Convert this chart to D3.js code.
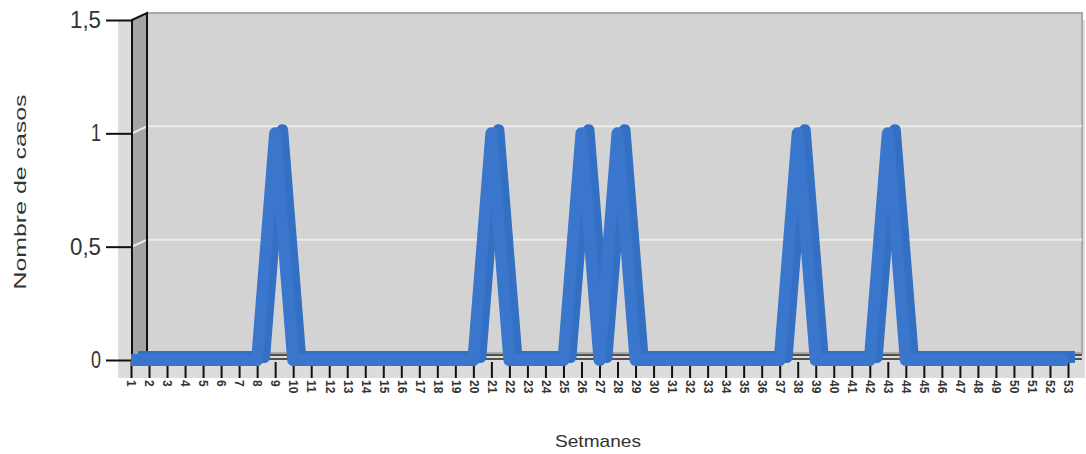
<!DOCTYPE html>
<html>
<head>
<meta charset="utf-8">
<script src="https://cdn.jsdelivr.net/npm/d3@7"></script>
<style>
  body { margin: 0; background: #fff; }
  text { font-family: "Liberation Sans Narrow", "Liberation Sans", Arial, sans-serif; fill: #333; }
</style>
</head>
<body>
<div id="chart"></div>
<script>
// weeks 1..53 and cases per week
var weeks = d3.range(1, 54);
var cases = [0,0,0,0,0,0,0,0,1,0, 0,0,0,0,0,0,0,0,0,0, 1,0,0,0,0,1,0,1,0,0, 0,0,0,0,0,0,0,1,0,0, 0,0,1,0,0,0,0,0,0,0, 0,0,0];
var yTicks = [0, 0.5, 1, 1.5];

var W = 1086, H = 454;
var depthX = 15, depthY = -7;

var svg = d3.select("#chart").append("svg")
  .attr("width", W).attr("height", H);

var x = d3.scaleLinear().domain([1, 53]).range([131, 1068]);
var y = d3.scaleLinear().domain([0, 1.5]).range([360, 20]);

var pLeft = 132, pRight = 1082 - depthX;
var pTop = y(1.5), pBottom = y(0);

// outer light area
svg.append("rect")
  .attr("x", 118).attr("y", pTop).attr("width", 1085 - 118).attr("height", 378 - pTop)
  .attr("fill", "#dcdcdc");

// back wall
svg.append("rect")
  .attr("x", pLeft + depthX).attr("y", pTop + depthY)
  .attr("width", pRight - pLeft).attr("height", pBottom - pTop)
  .attr("fill", "#d3d3d3").attr("stroke", "#a8a8a8").attr("stroke-width", 2);

// left wall
svg.append("path")
  .attr("d", "M" + pLeft + "," + pTop + "L" + (pLeft + depthX) + "," + (pTop + depthY) +
    "L" + (pLeft + depthX) + "," + (pBottom + depthY) + "L" + pLeft + "," + pBottom + "Z")
  .attr("fill", "#a4a4a4");

// grid lines
yTicks.filter(function(d) { return d > 0 && d < 1.5; }).forEach(function(t) {
  svg.append("path")
    .attr("d", "M" + pLeft + "," + y(t) + "L" + (pLeft + depthX) + "," + (y(t) + depthY) +
      "L" + (pRight + depthX) + "," + (y(t) + depthY))
    .attr("fill", "none").attr("stroke", "#ececec").attr("stroke-width", 2);
});

// wall edges
svg.append("path")
  .attr("d", "M" + pLeft + "," + pBottom + "L" + pLeft + "," + pTop + "L" + (pLeft + depthX) + "," + (pTop + depthY) +
    "L" + (pLeft + depthX) + "," + (pBottom + depthY))
  .attr("fill", "none").attr("stroke", "#111").attr("stroke-width", 2);

// floor edges
svg.append("line")
  .attr("x1", pLeft + depthX).attr("x2", pRight + depthX)
  .attr("y1", pBottom - 5).attr("y2", pBottom - 5)
  .attr("stroke", "#222").attr("stroke-width", 1.5);
svg.append("line")
  .attr("x1", pLeft).attr("x2", pRight + depthX)
  .attr("y1", pBottom - 1).attr("y2", pBottom - 1)
  .attr("stroke", "#222").attr("stroke-width", 1.5);

// y axis
var yAxis = d3.axisLeft(y).tickValues(yTicks).tickSize(26).tickPadding(5)
  .tickFormat(function(d) { return String(d).replace(".", ","); });
var gy = svg.append("g").attr("transform", "translate(" + pLeft + ",0)").call(yAxis);
gy.select(".domain").remove();
gy.selectAll(".tick line").attr("stroke", "#111").attr("stroke-width", 2);
gy.selectAll(".tick text").style("font-size", "23px").attr("fill", "#333")
  .attr("textLength", function(d) { return d % 1 ? 31 : 10; })
  .attr("lengthAdjust", "spacingAndGlyphs");

// x axis ticks
var xAxis = d3.axisBottom(x).tickValues(weeks).tickSize(16).tickPadding(4)
  .tickFormat(d3.format("d"));
var gx = svg.append("g").attr("transform", "translate(0," + (pBottom + 2) + ")").call(xAxis);
gx.select(".domain").remove();
gx.selectAll(".tick line").attr("stroke", "#111").attr("stroke-width", 2);
gx.selectAll(".tick text")
  .style("font-size", "12px").style("font-weight", "bold").attr("fill", "#222")
  .attr("text-anchor", "start").attr("dy", "0.35em")
  .attr("transform", "translate(0,18) rotate(90)").attr("y", 0).attr("x", 0);

// the line, drawn as a thick ribbon with a little depth
var line = d3.line()
  .x(function(d, i) { return x(weeks[i]); })
  .y(function(d) { return y(d); });

svg.append("path").datum(cases)
  .attr("d", line)
  .attr("transform", "translate(7,-3)")
  .attr("fill", "none").attr("stroke", "#336fc2").attr("stroke-width", 12)
  .attr("stroke-linejoin", "round");
svg.append("path").datum(cases)
  .attr("d", line)
  .attr("fill", "none").attr("stroke", "#3a76cc").attr("stroke-width", 12)
  .attr("stroke-linejoin", "round");

// titles
svg.append("text")
  .attr("transform", "translate(26,192) rotate(-90)")
  .attr("text-anchor", "middle")
  .style("font-size", "17px")
  .attr("textLength", 195).attr("lengthAdjust", "spacingAndGlyphs")
  .text("Nombre de casos");
svg.append("text")
  .attr("x", 598).attr("y", 447)
  .attr("text-anchor", "middle")
  .style("font-size", "17px")
  .attr("textLength", 86).attr("lengthAdjust", "spacingAndGlyphs")
  .text("Setmanes");
</script>
</body>
</html>
